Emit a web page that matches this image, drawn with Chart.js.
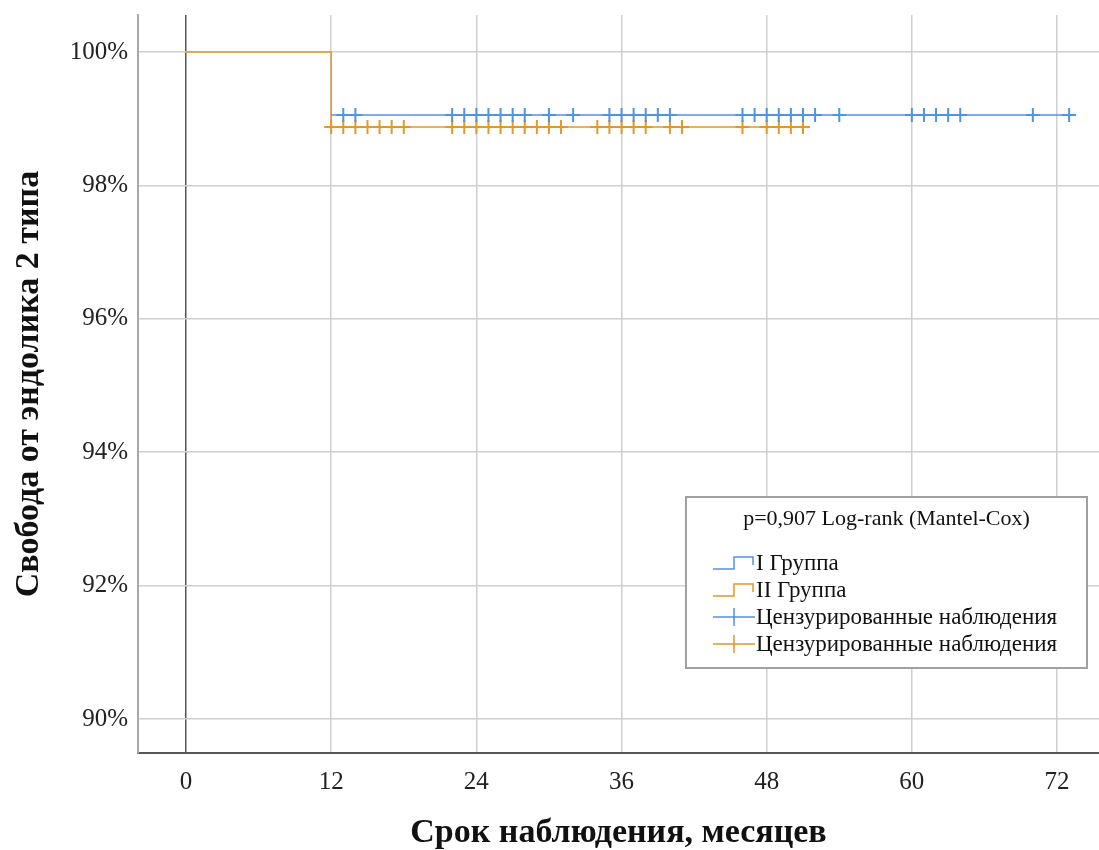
<!DOCTYPE html>
<html>
<head>
<meta charset="utf-8">
<script src="https://cdn.jsdelivr.net/npm/chart.js@4/dist/chart.umd.min.js"></script>
<style>
  html, body { margin: 0; padding: 0; background: #fff; }
  #wrap { width: 1099px; height: 850px; }
</style>
</head>
<body>
<div id="wrap"><canvas id="kmChart"></canvas></div>
<script>
// Kaplan-Meier: freedom from type 2 endoleak

const xTicks = [0, 12, 24, 36, 48, 60, 72];
const yTicks = [90, 92, 94, 96, 98, 100];

// step curves (months, survival %)
const group1Times = [0, 12, 73];
const group1Surv = [100, 99.057, 99.057];
const group2Times = [0, 12, 51];
const group2Surv = [100, 98.876, 98.876];

// censored observations (months)
const group1Censored = [13, 14, 22, 23, 24, 25, 26, 27, 28, 30, 32, 35, 36, 37, 38, 39, 40,
	46, 47, 48, 49, 50, 51, 52, 54, 60, 61, 62, 63, 64, 70, 73];
const group2Censored = [12, 13, 14, 15, 16, 17, 18, 22, 23, 24, 25, 26, 27, 28, 29, 30, 31,
	34, 35, 36, 37, 38, 40, 41, 46, 48, 49, 50, 51];

const legendTitle = "p=0,907 Log-rank (Mantel-Cox)";
const legendLabels = ["I Группа", "II Группа", "Цензурированные наблюдения", "Цензурированные наблюдения"];

const blue = "#4f93e3";
const orange = "#e5972a";

function toPoints(xs, ys) {
	return xs.map((x, i) => ({ x: x, y: ys[i] }));
}
function censorPoints(xs, level) {
	return xs.map(x => ({ x: x, y: level }));
}

const data = {
	datasets: [
		{
			label: legendLabels[0],
			data: toPoints(group1Times, group1Surv),
			borderColor: blue,
			borderWidth: 1.5,
			stepped: true,
			pointRadius: 0,
			fill: false,
			// first step lies under group II, keep it from tinting the orange
			segment: { borderColor: c => (c.p0DataIndex === 0 ? "rgba(0,0,0,0)" : blue) },
		},
		{
			label: legendLabels[1],
			data: toPoints(group2Times, group2Surv),
			borderColor: orange,
			borderWidth: 1.5,
			stepped: true,
			pointRadius: 0,
			fill: false,
		},
		{
			label: legendLabels[2],
			data: censorPoints(group1Censored, group1Surv[1]),
			showLine: false,
			pointStyle: "cross",
			pointRadius: 7,
			pointBorderWidth: 2,
			pointBorderColor: blue,
			pointBackgroundColor: blue,
		},
		{
			label: legendLabels[3],
			data: censorPoints(group2Censored, group2Surv[1]),
			showLine: false,
			pointStyle: "cross",
			pointRadius: 7,
			pointBorderWidth: 2,
			pointBorderColor: orange,
			pointBackgroundColor: orange,
		},
	],
};

const legendBox = {
	id: "legendBox",
	afterDraw(chart) {
		const ctx = chart.ctx;
		const x0 = 686, y0 = 497, w = 401, h = 171;
		ctx.save();
		ctx.fillStyle = "#fff";
		ctx.fillRect(x0, y0, w, h);
		ctx.strokeStyle = "#a0a0a0";
		ctx.lineWidth = 2;
		ctx.strokeRect(x0, y0, w, h);

		ctx.fillStyle = "#111";
		ctx.font = "22px 'Liberation Serif'";
		ctx.textAlign = "center";
		ctx.textBaseline = "middle";
		ctx.fillText(legendTitle, x0 + w / 2, 519);

		const colors = [blue, orange, blue, orange];
		const rows = [563, 590, 617, 644];
		ctx.textAlign = "left";
		ctx.font = "23px 'Liberation Serif'";
		rows.forEach((ry, i) => {
			ctx.strokeStyle = colors[i];
			ctx.lineWidth = 1.5;
			ctx.beginPath();
			if (i < 2) {
				ctx.moveTo(713, ry + 6);
				ctx.lineTo(734, ry + 6);
				ctx.lineTo(734, ry - 6);
				ctx.lineTo(753, ry - 6);
				ctx.lineTo(753, ry + 2);
			} else {
				ctx.moveTo(713, ry);
				ctx.lineTo(755, ry);
				ctx.moveTo(734, ry - 9);
				ctx.lineTo(734, ry + 9);
			}
			ctx.stroke();
			ctx.fillStyle = "#111";
			ctx.fillText(legendLabels[i], 756, ry + 1);
		});
		ctx.restore();
	},
};

const config = {
	type: "line",
	data: data,
	options: {
		responsive: true,
		maintainAspectRatio: false,
		animation: false,
		layout: { autoPadding: false, padding: { top: 15, left: 0, right: 0, bottom: 0 } },
		plugins: {
			legend: { display: false },
			tooltip: { enabled: false },
		},
		scales: {
			x: {
				type: "linear",
				min: -3.97,
				max: 75.47,
				afterBuildTicks: s => { s.ticks = xTicks.map(v => ({ value: v })); },
				afterFit: s => { s.height = 97; s.paddingLeft = 0; s.paddingRight = 0; },
				ticks: {
					color: "#222",
					padding: 14,
					font: { family: "'Liberation Serif'", size: 25 },
				},
				grid: {
					drawTicks: false,
					lineWidth: 1.5,
					color: c => (c.tick && c.tick.value === 0 ? "#555" : "#cfcfcf"),
				},
				border: { color: "#555", width: 2 },
				title: {
					display: true,
					text: "Срок наблюдения, месяцев",
					color: "#111",
					font: { family: "'Liberation Serif'", size: 34, weight: "bold", lineHeight: 1 },
					padding: { top: 0, bottom: 0 },
				},
			},
			y: {
				min: 89.49,
				max: 100.555,
				afterBuildTicks: s => { s.ticks = yTicks.map(v => ({ value: v })); },
				afterFit: s => { s.width = 138; s.paddingTop = 0; s.paddingBottom = 0; },
				ticks: {
					color: "#222",
					padding: 10,
					font: { family: "'Liberation Serif'", size: 25 },
					callback: v => v + "%",
				},
				grid: {
					drawTicks: false,
					lineWidth: 1.5,
					color: "#cfcfcf",
				},
				border: { color: "#a8a8a8", width: 2 },
				title: {
					display: true,
					text: "Свобода от эндолика 2 типа",
					color: "#111",
					font: { family: "'Liberation Serif'", size: 34, weight: "bold", lineHeight: 1 },
					padding: { top: 12, bottom: 0 },
				},
			},
		},
	},
	plugins: [legendBox],
};

const kmChart = new Chart(document.getElementById("kmChart"), config);
</script>
</body>
</html>
